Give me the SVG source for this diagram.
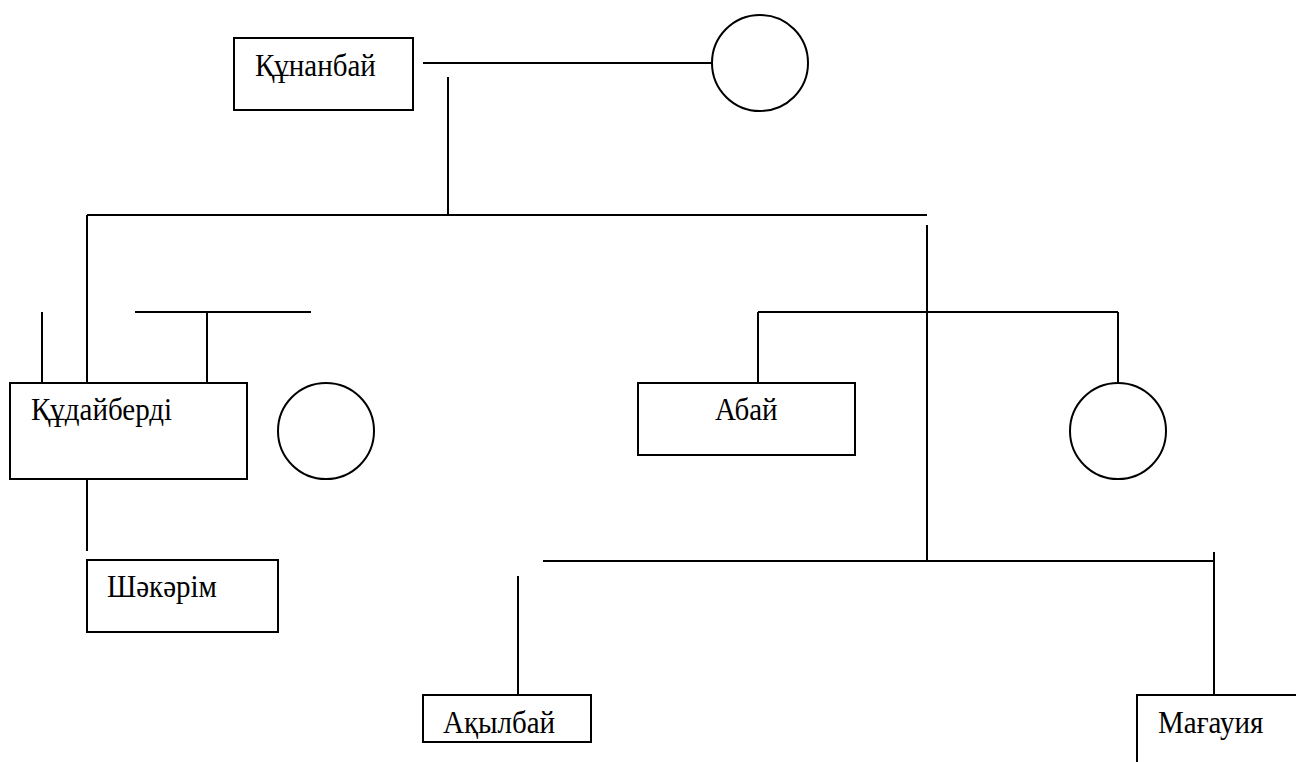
<svg xmlns="http://www.w3.org/2000/svg" width="1296" height="762" viewBox="0 0 1296 762">
<style>
.box{fill:#fff;stroke:#000;stroke-width:2}
.wife{fill:#fff;stroke:#000;stroke-width:2}
.lbl{font-family:"Liberation Serif","Times New Roman","DejaVu Serif",serif;font-size:29px;fill:#000}
#connectors line{stroke:#000;stroke-width:2}
</style>
<rect width="1296" height="762" fill="#fff"/>
<g id="connectors">
<line x1="423" y1="63" x2="712" y2="63"/>
<line x1="448" y1="77" x2="448" y2="215"/>
<line x1="87" y1="215" x2="927" y2="215"/>
<line x1="927" y1="225" x2="927" y2="561"/>
<line x1="87" y1="215" x2="87" y2="383"/>
<line x1="42" y1="312" x2="42" y2="383"/>
<line x1="135" y1="312" x2="311" y2="312"/>
<line x1="207" y1="312" x2="207" y2="383"/>
<line x1="87" y1="479" x2="87" y2="551"/>
<line x1="758" y1="312" x2="1118" y2="312"/>
<line x1="758" y1="312" x2="758" y2="383"/>
<line x1="1118" y1="312" x2="1118" y2="383"/>
<line x1="543" y1="561" x2="1214" y2="561"/>
<line x1="1214" y1="552" x2="1214" y2="695"/>
<line x1="518" y1="576" x2="518" y2="695"/>
</g>
<g id="kunanbai"><rect class="box" x="234" y="38" width="179" height="72"/><text class="lbl" transform="translate(255 76) scale(1 1.08)">Құнанбай</text></g>
<g id="kunanbai-wife"><circle class="wife" cx="760" cy="63" r="48"/></g>
<g id="kudaiberdi"><rect class="box" x="10" y="383" width="237" height="96"/><text class="lbl" transform="translate(31 420) scale(1 1.08)">Құдайберді</text></g>
<g id="kudaiberdi-wife"><circle class="wife" cx="326" cy="431" r="48"/></g>
<g id="abai"><rect class="box" x="638" y="383" width="217" height="72"/><text class="lbl" transform="translate(715 420) scale(1 1.08)">Абай</text></g>
<g id="abai-wife"><circle class="wife" cx="1118" cy="431" r="48"/></g>
<g id="shakarim"><rect class="box" x="87" y="560" width="191" height="72"/><text class="lbl" transform="translate(107 597) scale(1 1.08)">Шәкәрім</text></g>
<g id="akylbai"><rect class="box" x="423" y="695" width="168" height="47"/><text class="lbl" transform="translate(443 733) scale(1 1.08)">Ақылбай</text></g>
<g id="magauia"><rect class="box" x="1137" y="695" width="180" height="90"/><text class="lbl" transform="translate(1158 733) scale(1 1.08)">Мағауия</text></g>
</svg>
